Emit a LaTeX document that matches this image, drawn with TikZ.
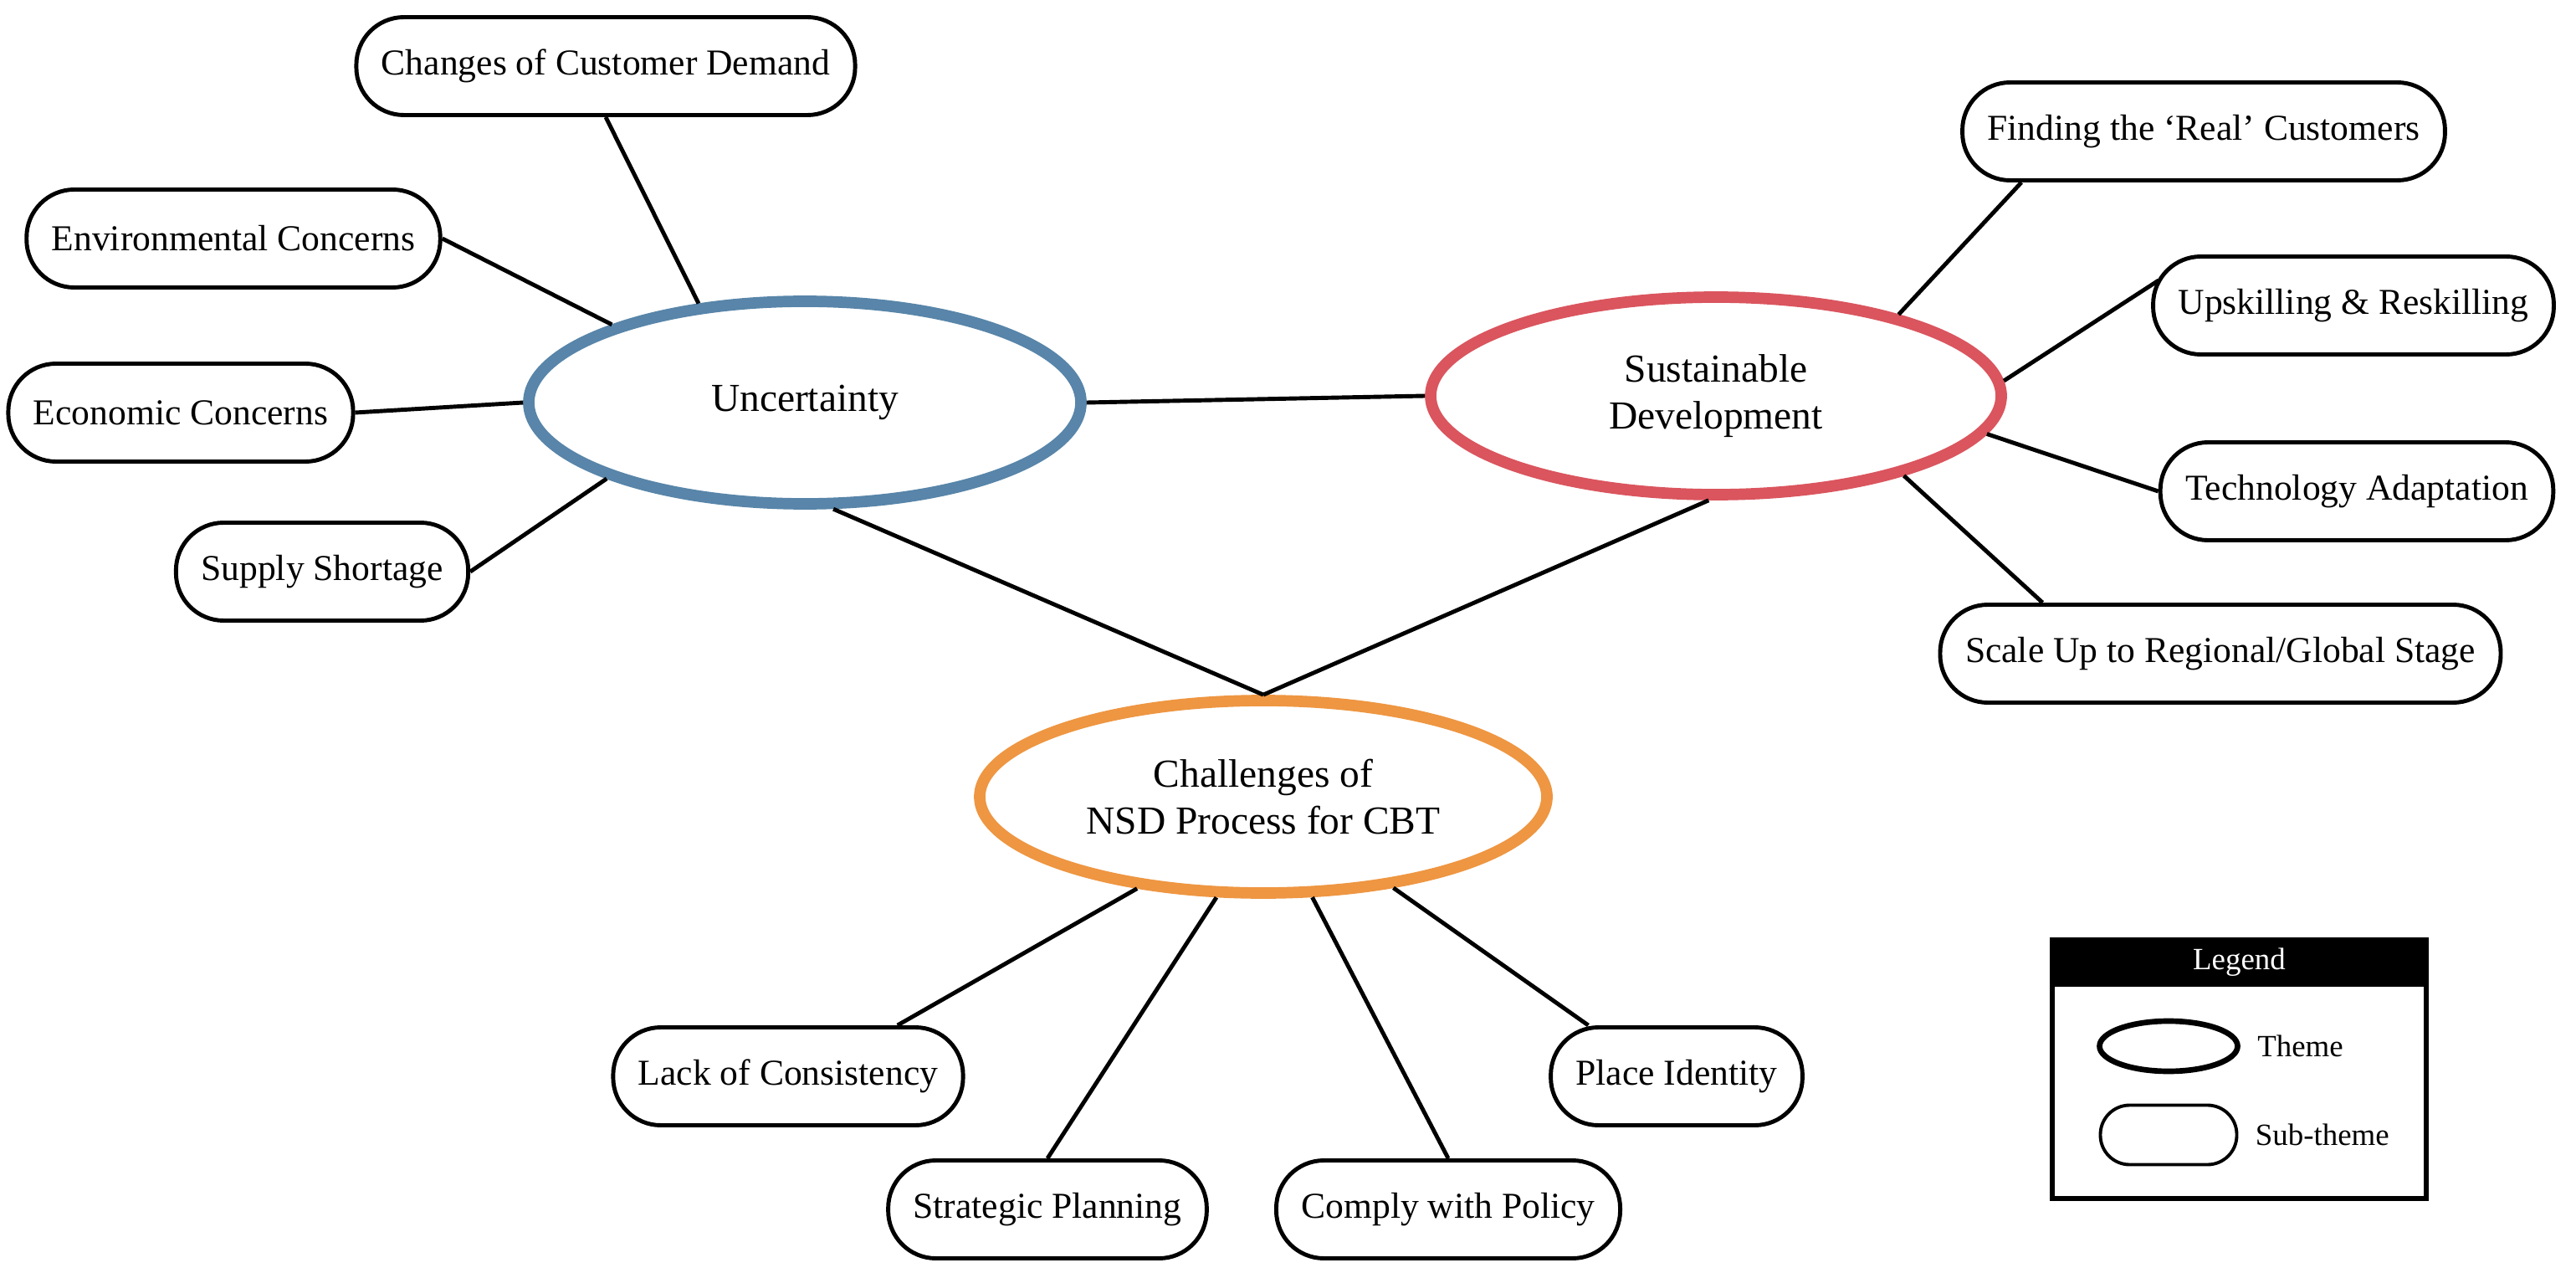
\documentclass[tikz,border=0pt]{standalone}
\usepackage{fontspec}
\setmainfont{Liberation Serif}
\usetikzlibrary{shapes.geometric,positioning}
\definecolor{uncblue}{RGB}{88,133,169}
\definecolor{susred}{RGB}{218,85,94}
\definecolor{chalorange}{RGB}{238,150,66}
\begin{document}
\begin{tikzpicture}
      \tikzset{theme/.style={ellipse,draw,line width=3.9pt,inner sep=0pt,align=center,font=\fontsize{13.5}{16}\selectfont},
        subtheme/.style={draw,line width=1.4pt,rounded corners=0.57cm,minimum height=1.17cm,inner xsep=0.3cm,fill=white,font=\fontsize{12.4}{15}\selectfont},
        link/.style={line width=1.4pt}}
      \useasboundingbox (0,0) rectangle (30.79,15.2);
      \node[theme,draw=uncblue,minimum width=6.6cm,minimum height=2.42cm] (unc) at (9.62,10.39) {Uncertainty};
      \node[theme,draw=susred,minimum width=6.82cm,minimum height=2.36cm] (sus) at (20.51,10.47) {Sustainable\\Development};
      \node[theme,draw=chalorange,minimum width=6.78cm,minimum height=2.3cm] (chal) at (15.10,5.68) {Challenges of\\NSD Process for CBT};
      \node[subtheme] (demand) at (7.24,14.41) {Changes of Customer Demand};
      \node[subtheme] (env) at (2.79,12.35) {Environmental Concerns};
      \node[subtheme] (econ) at (2.16,10.27) {Economic Concerns};
      \node[subtheme] (supply) at (3.85,8.37) {Supply Shortage};
      \node[subtheme] (real) at (26.34,13.63) {Finding the ‘Real’ Customers};
      \node[subtheme] (skill) at (28.13,11.55) {Upskilling \& Reskilling};
      \node[subtheme] (tech) at (28.17,9.33) {Technology Adaptation};
      \node[subtheme] (scale) at (26.54,7.39) {Scale Up to Regional/Global Stage};
      \node[subtheme] (consist) at (9.42,2.34) {Lack of Consistency};
      \node[subtheme] (plan) at (12.52,0.75) {Strategic Planning};
      \node[subtheme] (policy) at (17.31,0.75) {Comply with Policy};
      \node[subtheme] (place) at (20.04,2.34) {Place Identity};
      \draw[link] (demand.south) -- (unc.137);
      \draw[link] (env.east) -- (unc.158);
      \draw[link] (econ.east) -- (unc.west);
      \draw[link] (supply.east) -- (unc.201);
      \draw[link] (unc.east) -- (sus.west);
      \draw[link] (unc.285) -- (chal.north);
      \draw[link] (sus.266) -- (chal.north);
      \draw[link] ([xshift=0.73cm]real.south west) -- (sus.24);
      \draw[link] ([xshift=0.09cm,yshift=0.3cm]skill.west) -- (sus.3);
      \draw[link] (tech.west) -- (sus.352);
      \draw[link] (scale.164) -- (sus.337);
      \draw[link] (consist.25) -- (chal.216);
      \draw[link] (plan.north) -- (chal.245);
      \draw[link] (policy.north) -- (chal.296);
      \draw[link] (place.150) -- (chal.325);
      \node[draw,line width=1.7pt,minimum width=4.47cm,minimum height=3.09cm] (legend) at (26.765,2.425) {};
      \node[fill=black,text=white,anchor=north,minimum width=4.47cm,minimum height=0.58cm,font=\fontsize{10.5}{12}\selectfont] (leghead) at (legend.north) {Legend};
      \node[ellipse,draw,line width=1.9pt,minimum width=1.65cm,minimum height=0.6cm] (legtheme) at (25.92,2.70) {};
      \node[draw,line width=1.1pt,rounded corners=0.35cm,minimum width=1.63cm,minimum height=0.71cm] (legsub) at (25.92,1.64) {};
      \node[right=0.08cm of legtheme,font=\fontsize{10.5}{12}\selectfont] (legthemetext) {Theme};
      \node[right=0.08cm of legsub,font=\fontsize{10.5}{12}\selectfont] (legsubtext) {Sub-theme};
\end{tikzpicture}
\end{document}
